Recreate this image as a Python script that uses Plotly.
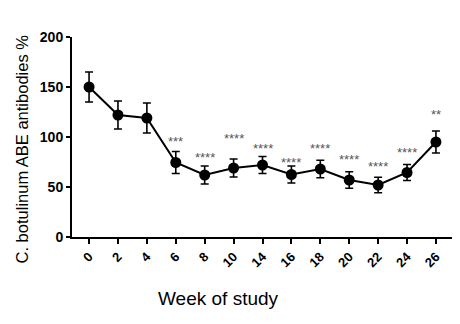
import plotly.graph_objects as go

weeks = ["0", "2", "4", "6", "8", "10", "14", "16", "18", "20", "22", "24", "26"]
values = [150, 122, 119, 74.5, 62, 69, 72, 62.5, 68, 57, 52, 64.5, 95]
errors = [15, 14, 15, 11, 9, 9, 8.5, 8.5, 8.7, 8.3, 7.7, 8, 11]
stars = ["", "", "", "***", "****", "****", "****", "****", "****", "****", "****", "****", "**"]
star_y = [None, None, None, 96, 80, 99, 89, 75, 89, 78, 71, 85, 123]

idx = list(range(len(weeks)))
FONT = "Liberation Sans, Arial"

fig = go.Figure()
fig.add_trace(go.Scatter(
    x=idx, y=values, mode="lines+markers",
    line=dict(color="black", width=2),
    marker=dict(color="black", size=11),
    error_y=dict(type="data", array=errors, color="black", thickness=1.6, width=4),
    showlegend=False,
))

for i, (s, yy) in enumerate(zip(stars, star_y)):
    if s:
        fig.add_annotation(x=i, y=yy, text=s, showarrow=False,
                           font=dict(family=FONT, size=13, color="#555"),
                           xanchor="center", yanchor="middle")

fig.add_annotation(xref="paper", yref="paper", x=-0.13, y=0.44, xanchor="center",
                   text="C. botulinum ABE antibodies %", textangle=-90, showarrow=False,
                   font=dict(family=FONT, size=16.5, color="black"))
fig.add_annotation(xref="paper", yref="paper", x=0.385, y=-0.305,
                   text="Week of study", showarrow=False, yanchor="middle",
                   font=dict(family=FONT, size=19, color="black"))

fig.update_layout(
    width=452, height=316,
    margin=dict(l=64, r=7, t=29, b=87),
    plot_bgcolor="white", paper_bgcolor="white",
    font=dict(family=FONT, color="black"),
    xaxis=dict(range=[-0.59, 12.59], tickvals=idx, ticktext=[f"<b>{w}</b>" for w in weeks], tickangle=-45,
               showgrid=False, zeroline=False, showline=True, linecolor="black", linewidth=2,
               ticks="outside", ticklen=5, tickwidth=2, tickcolor="black",
               tickfont=dict(size=13, family=FONT, color="black")),
    yaxis=dict(range=[0, 200], tickvals=[0, 50, 100, 150, 200], ticktext=["<b>0</b>", "<b>50</b>", "<b>100</b>", "<b>150</b>", "<b>200</b>"],
               showgrid=False, zeroline=False, showline=True, linecolor="black", linewidth=2,
               ticks="outside", ticklen=4, tickwidth=2, tickcolor="black",
               tickfont=dict(size=14, family=FONT, color="black")),
)

fig.write_html("out.html")
